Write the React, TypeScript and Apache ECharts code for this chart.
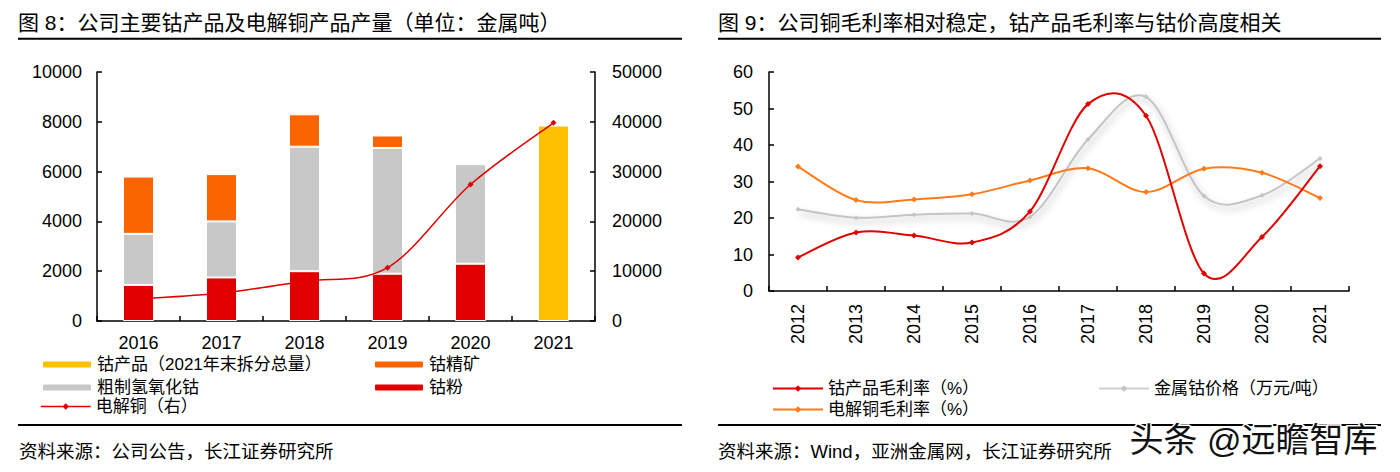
import React, { useEffect, useRef } from "react";
import * as echarts from "echarts";

// ---- Chart 1 data (金属吨) ----
const years1 = ["2016", "2017", "2018", "2019", "2020", "2021"];
const cobaltPowder = [1450, 1750, 2000, 1900, 2300, null]; // 钴粉
const crudeHydroxide = [2050, 2250, 5000, 5050, 4000, null]; // 粗制氢氧化钴
const cobaltConc = [2300, 1900, 1300, 500, null, null]; // 钴精矿
const cobaltTotal = [null, null, null, null, null, 7850]; // 钴产品（2021年末拆分总量）
const copperOutput = [4400, 5600, 8000, 10700, 27400, 39800]; // 电解铜（右）

// ---- Chart 2 data ----
const years2 = ["2012", "2013", "2014", "2015", "2016", "2017", "2018", "2019", "2020", "2021"];
const cobaltMargin = [9.2, 16.0, 15.2, 13.3, 21.8, 51.2, 48.0, 4.8, 14.8, 34.2];
const copperMargin = [34.1, 24.9, 25.1, 26.5, 30.3, 33.6, 27.1, 33.5, 32.4, 25.5];
const cobaltPrice = [22.4, 20.1, 20.9, 21.2, 20.3, 41.5, 53.2, 26.0, 26.2, 36.3];

const FONT = '"Liberation Sans", "Noto Sans CJK SC", sans-serif';
const RED = "#E00000";
const ORANGE = "#FA6400";
const GRAY = "#C8C8C8";
const YELLOW = "#FFC000";
const LORANGE = "#FF7A1A";

function smoothPath(pts: number[][]) {
  let d = `M${pts[0][0]},${pts[0][1]}`;
  for (let i = 0; i < pts.length - 1; i++) {
    const p0 = pts[i - 1] || pts[i];
    const p1 = pts[i];
    const p2 = pts[i + 1];
    const p3 = pts[i + 2] || pts[i + 1];
    const c1x = p1[0] + (p2[0] - p0[0]) / 6;
    const c1y = p1[1] + (p2[1] - p0[1]) / 6;
    const c2x = p2[0] - (p3[0] - p1[0]) / 6;
    const c2y = p2[1] - (p3[1] - p1[1]) / 6;
    d += ` C${c1x},${c1y} ${c2x},${c2y} ${p2[0]},${p2[1]}`;
  }
  return d;
}

function curveSeries(values: number[], xi: number, yi: number, color: string, width: number, z: number, extra: any = {}) {
  return {
    type: "custom",
    xAxisIndex: xi,
    yAxisIndex: yi,
    data: values.map((v, i) => [i, v]),
    encode: { x: 0, y: 1 },
    silent: true,
    z,
    renderItem: (params: any, api: any) => {
      if (params.dataIndex !== 0) return null;
      const pts = values.map((v, i) => api.coord([i, v]));
      return {
        type: "path",
        shape: { pathData: smoothPath(pts) },
        style: { fill: "none", stroke: color, lineWidth: width, ...extra },
      };
    },
  };
}

export default function App() {
  const ref = useRef<HTMLDivElement>(null);
  useEffect(() => {
    document.body.style.margin = "0";
    if (!ref.current) return;
    const chart = echarts.init(ref.current, undefined, { renderer: "svg" });

    const axisLine = { show: true, lineStyle: { color: "#000", width: 1.5 } };
    const axisTick = { show: true, inside: true, length: 5, lineStyle: { color: "#000", width: 1.5 } };
    const axisLabel = { color: "#000", fontSize: 18, fontFamily: FONT, formatter: (v: any) => String(v) };
    const legendText = { color: "#000", fontSize: 17, fontFamily: FONT };
    const mkLegend = (name: string, left: number, top: number, line?: { color: string; width: number }) => ({
      data: [name],
      left,
      top,
      itemWidth: 50,
      itemHeight: 8,
      itemGap: 0,
      padding: 0,
      textStyle: legendText,
      selectedMode: false,
      ...(line ? { lineStyle: { color: line.color, width: line.width, opacity: 1 } } : {}),
    });

    const markerLine = (name: string, xi: number, yi: number, data: number[], color: string, z: number, size = 6) => ({
      name,
      type: "line",
      xAxisIndex: xi,
      yAxisIndex: yi,
      data,
      symbol: "diamond",
      symbolSize: size,
      lineStyle: { color, width: 2, opacity: 0 },
      itemStyle: { color },
      z,
    });

    const option: any = {
      animation: false,
      backgroundColor: "#fff",
      textStyle: { fontFamily: FONT },
      grid: [
        { left: 97, right: 805, top: 72, bottom: 151, containLabel: false },
        { left: 769, right: 51, top: 72, bottom: 181, containLabel: false },
      ],
      legend: [
        mkLegend("钴产品（2021年末拆分总量）", 41, 356),
        mkLegend("粗制氢氧化钴", 41, 379),
        mkLegend("电解铜（右）", 40, 398, { color: RED, width: 1.5 }),
        mkLegend("钴精矿", 373, 356),
        mkLegend("钴粉", 373, 379),
        mkLegend("钴产品毛利率（%）", 772, 380, { color: RED, width: 2 }),
        mkLegend("电解铜毛利率（%）", 772, 401, { color: LORANGE, width: 2 }),
        mkLegend("金属钴价格（万元/吨）", 1098, 380, { color: "#D0D0D0", width: 2 }),
      ],
      xAxis: [
        {
          type: "category",
          gridIndex: 0,
          data: years1,
          boundaryGap: true,
          axisLine,
          axisTick,
          axisLabel: { ...axisLabel, margin: 13 },
          splitLine: { show: false },
        },
        {
          type: "category",
          gridIndex: 1,
          data: years2,
          boundaryGap: true,
          axisLine,
          axisTick,
          axisLabel: { ...axisLabel, rotate: 90, margin: 13 },
          splitLine: { show: false },
        },
      ],
      yAxis: [
        {
          type: "value",
          gridIndex: 0,
          min: 0,
          max: 10000,
          interval: 2000,
          axisLine,
          axisTick,
          axisLabel: { ...axisLabel, margin: 15 },
          splitLine: { show: false },
        },
        {
          type: "value",
          gridIndex: 0,
          position: "right",
          min: 0,
          max: 50000,
          interval: 10000,
          axisLine,
          axisTick,
          axisLabel: { ...axisLabel, margin: 17 },
          splitLine: { show: false },
        },
        {
          type: "value",
          gridIndex: 1,
          min: 0,
          max: 60,
          interval: 10,
          axisLine,
          axisTick,
          axisLabel: { ...axisLabel, margin: 16 },
          splitLine: { show: false },
        },
      ],
      series: [
        {
          name: "钴粉",
          type: "bar",
          stack: "a",
          xAxisIndex: 0,
          yAxisIndex: 0,
          data: cobaltPowder,
          barWidth: 31,
          itemStyle: { color: RED, borderColor: "#fff", borderWidth: 1 },
        },
        {
          name: "粗制氢氧化钴",
          type: "bar",
          stack: "a",
          xAxisIndex: 0,
          yAxisIndex: 0,
          data: crudeHydroxide,
          barWidth: 31,
          itemStyle: { color: GRAY, borderColor: "#fff", borderWidth: 1 },
        },
        {
          name: "钴精矿",
          type: "bar",
          stack: "a",
          xAxisIndex: 0,
          yAxisIndex: 0,
          data: cobaltConc,
          barWidth: 31,
          itemStyle: { color: ORANGE, borderColor: "#fff", borderWidth: 1 },
        },
        {
          name: "钴产品（2021年末拆分总量）",
          type: "bar",
          stack: "a",
          xAxisIndex: 0,
          yAxisIndex: 0,
          data: cobaltTotal,
          barWidth: 31,
          itemStyle: { color: YELLOW, borderColor: "#fff", borderWidth: 1 },
        },
        curveSeries(copperOutput, 0, 1, RED, 1.5, 5),
        markerLine("电解铜（右）", 0, 1, copperOutput, RED, 6),

        curveSeries(cobaltPrice, 1, 2, "#C4C4C4", 2, 2, {
          shadowColor: "rgba(0,0,0,0.28)",
          shadowBlur: 7,
          shadowOffsetX: 2,
          shadowOffsetY: 4,
        }),
        curveSeries(copperMargin, 1, 2, LORANGE, 2, 3),
        curveSeries(cobaltMargin, 1, 2, RED, 2, 4),
        markerLine("金属钴价格（万元/吨）", 1, 2, cobaltPrice, "#C4C4C4", 5, 5),
        markerLine("电解铜毛利率（%）", 1, 2, copperMargin, LORANGE, 6),
        markerLine("钴产品毛利率（%）", 1, 2, cobaltMargin, RED, 7),
      ],
      graphic: [
        {
          type: "text",
          left: 18,
          top: 12,
          style: { text: "图 8：公司主要钴产品及电解铜产品产量（单位：金属吨）", fill: "#000", font: `21px ${FONT}` },
        },
        {
          type: "text",
          left: 718,
          top: 12,
          style: { text: "图 9：公司铜毛利率相对稳定，钴产品毛利率与钴价高度相关", fill: "#000", font: `21px ${FONT}` },
        },
        { type: "rect", shape: { x: 18, y: 37.7, width: 664, height: 2 }, style: { fill: "#000" } },
        { type: "rect", shape: { x: 718, y: 37.7, width: 663, height: 2 }, style: { fill: "#000" } },
        { type: "rect", shape: { x: 18, y: 424, width: 664, height: 2 }, style: { fill: "#000" } },
        { type: "rect", shape: { x: 718, y: 424, width: 663, height: 2 }, style: { fill: "#000" } },
        {
          type: "text",
          left: 19,
          top: 442,
          style: { text: "资料来源：公司公告，长江证券研究所", fill: "#000", font: `18.5px ${FONT}` },
        },
        {
          type: "text",
          left: 718,
          top: 442,
          style: { text: "资料来源：Wind，亚洲金属网，长江证券研究所", fill: "#000", font: `18.5px ${FONT}` },
        },
        {
          type: "text",
          left: 1128,
          top: 421,
          z: 100,
          style: {
            text: "头条 @远瞻智库",
            fill: "#111",
            stroke: "#fff",
            lineWidth: 3,
            font: `34px ${FONT}`,
          },
        },
      ],
    };

    chart.setOption(option);
    return () => chart.dispose();
  }, []);

  return <div ref={ref} style={{ width: 1400, height: 472 }} />;
}
